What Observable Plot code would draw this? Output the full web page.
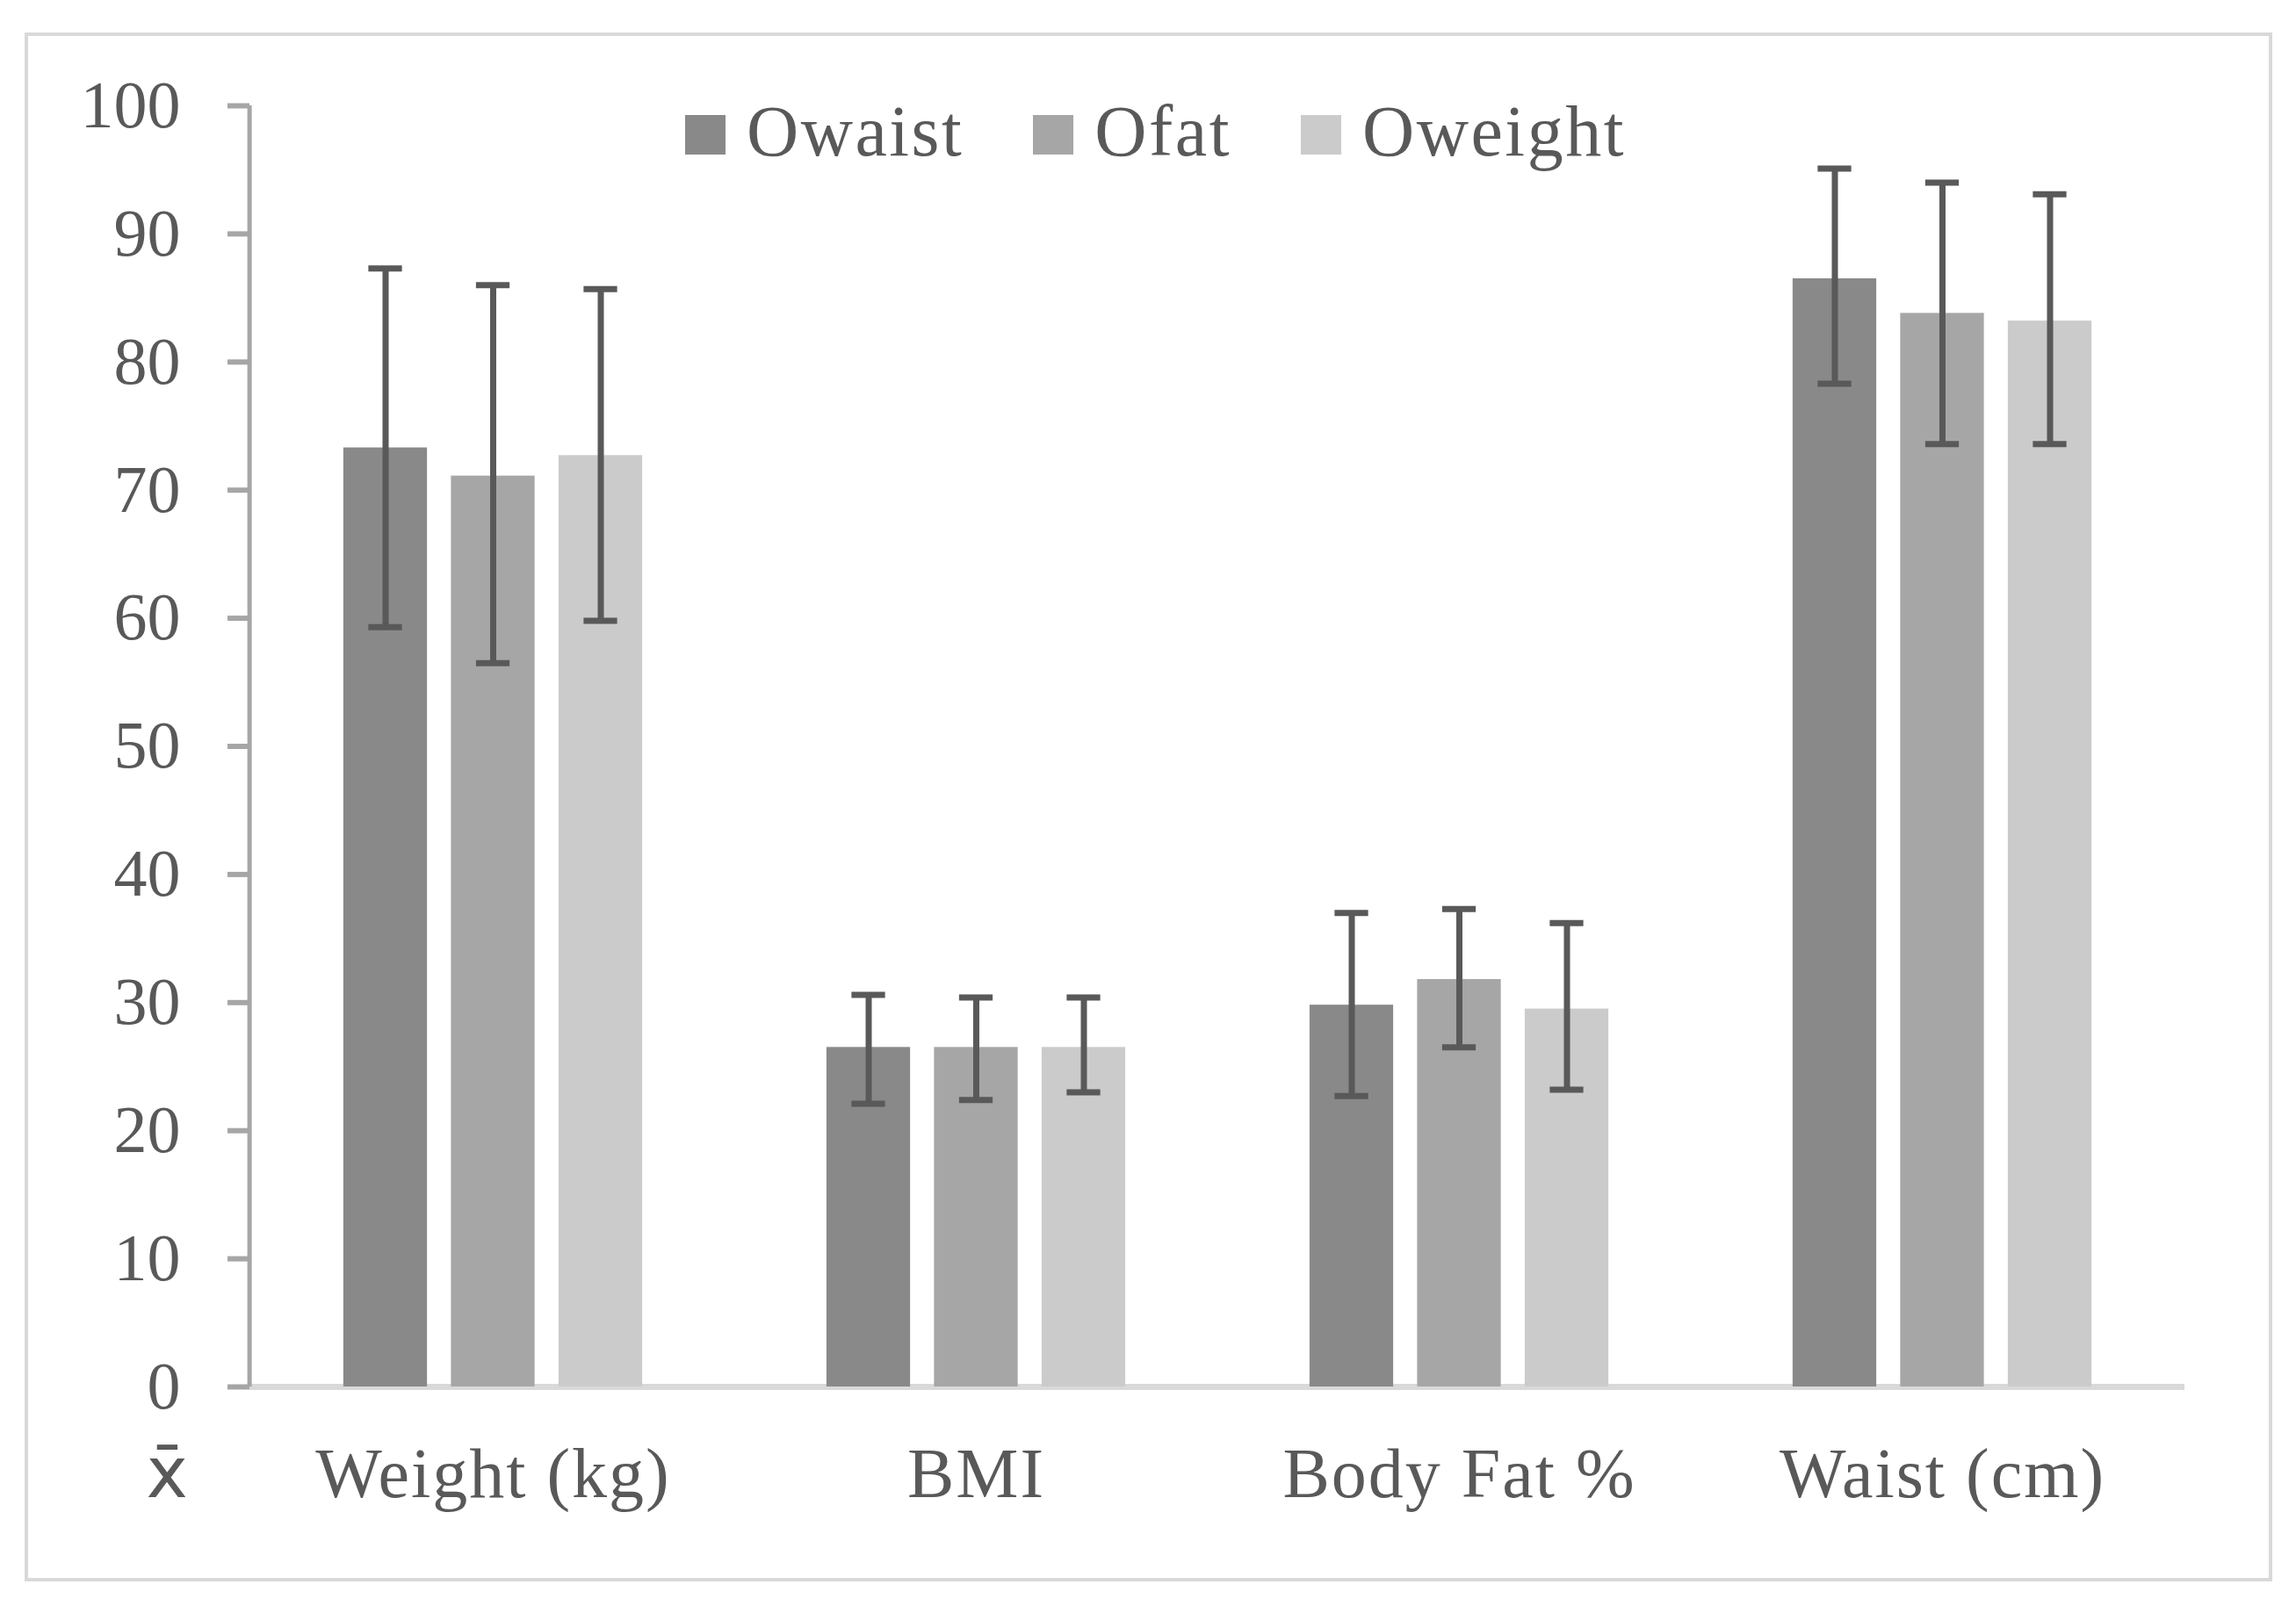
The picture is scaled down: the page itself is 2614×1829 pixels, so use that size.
<!DOCTYPE html>
<html>
<head>
<meta charset="utf-8">
<script src="https://cdn.jsdelivr.net/npm/d3@7"></script>
<script src="https://cdn.jsdelivr.net/npm/@observablehq/plot@0.6"></script>
<style>
  html, body { margin: 0; padding: 0; background: #ffffff; }
  #wrap { position: relative; width: 2614px; height: 1829px; font-family: "Liberation Serif", serif; }
  #chart { position: absolute; left: 0; top: 0; }
  #border { position: absolute; left: 28px; top: 37px; width: 2559px; height: 1764px; box-sizing: border-box; border: 4px solid #d9d9d9; pointer-events: none; }
  #legend { position: absolute; left: 780px; top: 109px; display: flex; align-items: flex-start; gap: 79px; }
  .item { display: flex; align-items: flex-start; }
  .sw { width: 46px; height: 45px; margin-top: 22px; margin-right: 24px; }
  .lab { font-size: 82px; line-height: 82px; color: #595959; font-family: "Liberation Serif", serif; letter-spacing: 2.5px; }
</style>
</head>
<body>
<div id="wrap">
  <div id="chart"></div>
  <div id="legend"></div>
  <div id="border"></div>
</div>
<script>
const categories = ["Weight (kg)", "BMI", "Body Fat %", "Waist (cm)"];
const series = ["Owaist", "Ofat", "Oweight"];
const seriesColors = ["#898989", "#a6a6a6", "#cbcbcb"];
const yTicks = [0, 10, 20, 30, 40, 50, 60, 70, 80, 90, 100];

const owaistMean = [73.3, 26.5, 29.8, 86.5];
const owaistLow  = [59.3, 22.1, 22.7, 78.3];
const owaistHigh = [87.3, 30.6, 37.0, 95.1];

const ofatMean = [71.1, 26.5, 31.8, 83.8];
const ofatLow  = [56.5, 22.4, 26.5, 73.6];
const ofatHigh = [86.0, 30.4, 37.3, 94.0];

const oweightMean = [72.7, 26.5, 29.5, 83.2];
const oweightLow  = [59.8, 23.0, 23.2, 73.6];
const oweightHigh = [85.7, 30.4, 36.2, 93.1];

const means = [owaistMean, ofatMean, oweightMean];
const lows = [owaistLow, ofatLow, oweightLow];
const highs = [owaistHigh, ofatHigh, oweightHigh];

const rows = series.map((s, i) => categories.map((c, j) => ({
  series: s, category: c, mean: means[i][j], low: lows[i][j], high: highs[i][j]
})));

const W = 2614, H = 1829;
const mL = 284, mR = 127, mT = 120, mB = 250;
const bw = (W - mL - mR) / categories.length;
const barW = 96, step = 122.5, capW = 39;
const errColor = "#595959";

const marks = [Plot.ruleY([0], {stroke: "#d9d9d9", strokeWidth: 7})];
series.forEach((s, i) => {
  const dx = (i - 1) * step;
  marks.push(Plot.barY(rows[i], {x: "category", y: "mean", fill: seriesColors[i], dx,
    insetLeft: (bw - barW) / 2, insetRight: (bw - barW) / 2}));
});
series.forEach((s, i) => {
  const dx = (i - 1) * step;
  marks.push(Plot.ruleX(rows[i], {x: "category", y1: "low", y2: "high", dx, stroke: errColor, strokeWidth: 7}));
  marks.push(Plot.tickY(rows[i], {x: "category", y: "high", dx, stroke: errColor, strokeWidth: 7,
    insetLeft: (bw - capW) / 2, insetRight: (bw - capW) / 2}));
  marks.push(Plot.tickY(rows[i], {x: "category", y: "low", dx, stroke: errColor, strokeWidth: 7,
    insetLeft: (bw - capW) / 2, insetRight: (bw - capW) / 2}));
});
marks.push(Plot.ruleX([categories[0]], {y1: 0, y2: 100, dx: -bw / 2 - 2, stroke: "#a6a6a6", strokeWidth: 5}));
marks.push(Plot.axisY({ticks: yTicks, tickSize: 25, tickPadding: 54, label: null,
  stroke: "#a6a6a6", strokeWidth: 6, fill: "#595959", fontSize: 76, tickFormat: d3.format("d")}));
marks.push(Plot.axisX({tickSize: 0, tickPadding: 69, label: null, fill: "#595959", fontSize: 80}));
marks.push(Plot.text(["x\u0304"], {frameAnchor: "bottom-left", dx: -118, dy: 69, lineAnchor: "top",
  fill: "#595959", fontSize: 80, fontFamily: "'DejaVu Sans', sans-serif"}));

const plot = Plot.plot({
  width: W, height: H,
  marginLeft: mL, marginRight: mR, marginTop: mT, marginBottom: mB,
  style: {background: "transparent", fontFamily: "'Liberation Serif', serif", color: "#595959"},
  x: {type: "band", domain: categories, padding: 0, axis: null},
  y: {domain: [0, 100], axis: null},
  marks
});
d3.select(plot).selectAll('g[aria-label="x-axis tick label"] text').style("letter-spacing", "2px");
document.getElementById("chart").appendChild(plot);

const legend = document.getElementById("legend");
series.forEach((s, i) => {
  const item = document.createElement("div");
  item.className = "item";
  const sw = document.createElement("div");
  sw.className = "sw";
  sw.style.background = seriesColors[i];
  const lab = document.createElement("div");
  lab.className = "lab";
  lab.textContent = s;
  item.appendChild(sw);
  item.appendChild(lab);
  legend.appendChild(item);
});
</script>
</body>
</html>
